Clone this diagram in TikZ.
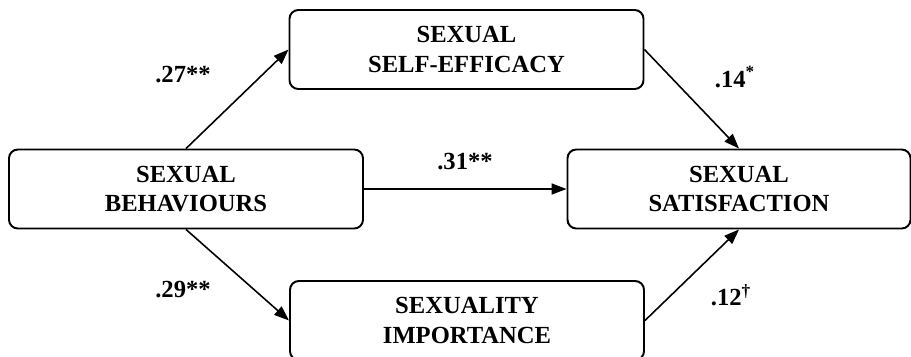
\documentclass[tikz,border=0pt]{standalone}
\usepackage{fontspec}
\setmainfont{Liberation Serif}
\usetikzlibrary{arrows.meta,positioning}

\begin{document}
\begin{tikzpicture}[
  font=\fontsize{14pt}{17pt}\selectfont\bfseries, >={Triangle[length=3mm,width=2.2mm]},
  varbox/.style={draw, line width=1.1pt, rounded corners=5pt, align=center,
                 minimum width=7.08cm, minimum height=1.58cm, inner sep=2pt},
  coef/.style={inner sep=1pt},
  arr/.style={->, line width=0.9pt}]
\useasboundingbox (0,0) rectangle (18.22,-7.12);
% ---------- variables
\node[varbox] (beh) at (3.72,-3.78) {SEXUAL\\BEHAVIOURS};
\node[varbox] (eff) at (9.33,-0.99) {SEXUAL\\SELF-EFFICACY};
\node[varbox, minimum width=6.86cm] (sat) at (14.78,-3.78) {SEXUAL\\SATISFACTION};
\node[varbox] (imp) at (9.34,-6.41) {SEXUALITY\\IMPORTANCE};
% ---------- paths
\draw[arr] (beh.north) -- (eff.west);
\draw[arr] (eff.east) -- (sat.north);
\draw[arr] (beh.east) -- (sat.west);
\draw[arr] (beh.south) -- (imp.west);
\draw[arr] (imp.east) -- (sat.south);
% ---------- coefficients
\node[coef] (c1) at (3.66,-1.50) {.27**};
\node[coef] (c2) at (14.70,-1.54) {.14\textsuperscript{*}};
\node[coef] (c3) at (9.30,-3.24) {.31**};
\node[coef] (c4) at (3.66,-5.80) {.29**};
\node[coef] (c5) at (14.62,-5.90) {.12\textsuperscript{\dag}};
\end{tikzpicture}
\end{document}
